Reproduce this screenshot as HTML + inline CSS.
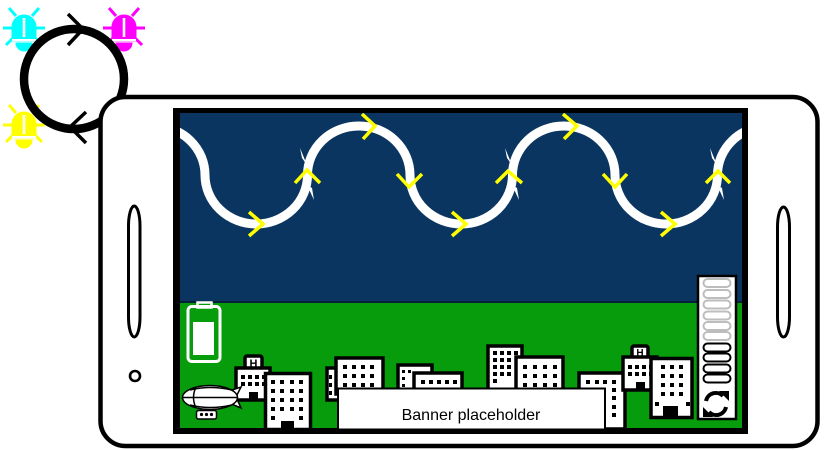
<!DOCTYPE html>
<html><head><meta charset="utf-8"><style>
html,body{margin:0;padding:0;background:#fff;}
svg{display:block;}
</style></head><body>
<svg width="830" height="450" viewBox="0 0 830 450" xmlns="http://www.w3.org/2000/svg">
<defs>
<clipPath id="scr"><rect x="180" y="113" width="562" height="188"/></clipPath>
<g id="bug">
  <path d="M-12,12 L-12,-2 A12,12 0 0 1 12,-2 L12,12 Z"/>
  <path d="M-8,14 L8,14 A8,8 0 0 1 -8,14 Z"/>
  <g stroke-width="3" stroke-linecap="butt" fill="none">
    <line x1="-21" y1="-1" x2="-12" y2="-1"/>
    <line x1="12" y1="-1" x2="21" y2="-1"/>
    <line x1="-15" y1="-21" x2="-8" y2="-13"/>
    <line x1="15" y1="-21" x2="8" y2="-13"/>
    <line x1="-11" y1="9" x2="-18" y2="16"/>
    <line x1="11" y1="9" x2="18" y2="16"/>
  </g>
  <rect x="-1.3" y="-11" width="2.6" height="19" fill="#fff" stroke="none"/>
  <rect x="-12" y="10" width="24" height="2.2" fill="#fff" stroke="none"/>
</g>
</defs>

<!-- bugs -->
<g fill="#00ffff" stroke="#00ffff" transform="translate(24,29)"><use href="#bug"/></g>
<g fill="#ff00ff" stroke="#ff00ff" transform="translate(124,29)"><use href="#bug"/></g>
<g fill="#ffff00" stroke="#ffff00" transform="translate(24,126)"><use href="#bug"/></g>

<!-- sync circle -->
<circle cx="74" cy="79" r="50" fill="none" stroke="#000" stroke-width="8.5"/>
<polyline points="68,14 83,29 68,45" fill="none" stroke="#000" stroke-width="3.5"/>
<polyline points="86,112 70,127 86,143" fill="none" stroke="#000" stroke-width="3.5"/>

<!-- phone -->
<rect x="100.5" y="97" width="717" height="349" rx="25" ry="25" fill="#fff" stroke="#000" stroke-width="4.5"/>
<rect x="128.5" y="206" width="11.5" height="131" rx="5.75" ry="20" fill="#fff" stroke="#000" stroke-width="3"/>
<rect x="777.5" y="207" width="12" height="130" rx="6" ry="20" fill="#fff" stroke="#000" stroke-width="3"/>
<circle cx="135" cy="376" r="5" fill="#fff" stroke="#000" stroke-width="2.6"/>

<!-- screen -->
<rect x="173" y="108" width="575" height="326" fill="#000"/>
<rect x="180" y="113" width="562" height="188" fill="#0a3560"/>
<rect x="180" y="301" width="562" height="2" fill="#06203a"/>
<rect x="180" y="303" width="562" height="125" fill="#069c0b"/>

<!-- wave -->
<g clip-path="url(#scr)">
<path d="M102.5,175 A51.25,49 0 0 1 205,175 A51.25,49 0 0 0 307.5,175 A51.25,49 0 0 1 410,175 A51.25,49 0 0 0 512.5,175 A51.25,49 0 0 1 615,175 A51.25,49 0 0 0 717.5,175 A51.25,49 0 0 1 820,175" fill="none" stroke="#fff" stroke-width="9"/>
<g fill="#fff">
  <polygon points="200,160 196,150 205,165"/><polygon points="210,190 214,200 205,185"/>
  <polygon points="302,158 300,148 307,165"/><polygon points="312,188 314,200 307,185"/>
  <polygon points="405,162 403,150 410,168"/><polygon points="415,190 417,200 410,185"/>
  <polygon points="507,158 505,148 512,165"/><polygon points="517,188 519,200 512,185"/>
  <polygon points="610,162 608,150 615,168"/><polygon points="620,190 622,200 615,185"/>
  <polygon points="712,158 710,148 717,165"/><polygon points="722,188 724,200 717,185"/>
</g>
<g fill="none" stroke="#ffff00" stroke-width="3.5">
  <polyline points="249,212 263,224 249,236"/>
  <polyline points="362,114 375,126 363,139"/>
  <polyline points="295,183 307,170 320,183"/>
  <polyline points="397,174 409,187 422,174"/>
  <polyline points="452,212 466,224 452,236"/>
  <polyline points="496,183 508,171 522,183"/>
  <polyline points="563,114 577,126 564,139"/>
  <polyline points="603,174 615,187 627,174"/>
  <polyline points="661,212 675,224 661,236"/>
  <polyline points="706,183 718,171 730,183"/>
</g>
</g>

<!-- battery -->
<rect x="197.5" y="302.5" width="14" height="5" fill="none" stroke="#fff" stroke-width="2.5"/>
<rect x="188" y="306.5" width="32" height="55" rx="4" fill="none" stroke="#fff" stroke-width="3"/>
<rect x="193" y="322" width="21" height="33" fill="#fff"/>

<!-- hospital 1 -->
<g stroke="#000" stroke-width="3.5" fill="#fff">
  <rect x="245" y="356" width="17" height="13" rx="2"/>
  <rect x="236" y="368" width="34" height="32"/>
</g>
<text x="253.5" y="367" font-family="Liberation Sans, sans-serif" font-weight="bold" font-size="11" fill="#000" text-anchor="middle">H</text>
<g fill="#000">
  <rect x="241" y="375" width="4" height="4"/><rect x="248" y="375" width="4" height="4"/><rect x="255" y="375" width="4" height="4"/><rect x="262" y="375" width="4" height="4"/>
  <rect x="241" y="382" width="4" height="4"/><rect x="248" y="382" width="4" height="4"/><rect x="255" y="382" width="4" height="4"/><rect x="262" y="382" width="4" height="4"/>
  <rect x="249" y="392" width="9" height="8"/>
</g>

<!-- blimp -->
<g stroke="#000" stroke-width="1.5" fill="#fff">
  <polygon points="229,391 241,387 236,397 241,408 229,403"/>
  <ellipse cx="210" cy="397.5" rx="27.5" ry="12"/>
  <line x1="183" y1="397.5" x2="237" y2="397.5"/>
  <path d="M190,390 Q210,385 232,390" fill="none"/>
  <path d="M190,405 Q210,410 232,405" fill="none"/>
  <path d="M196,387 Q191,397.5 196,408" fill="none"/>
  <rect x="196.5" y="410.5" width="20" height="8.5" rx="2"/>
</g>
<g fill="#000"><circle cx="201.5" cy="414.5" r="1.6"/><circle cx="206.5" cy="414.5" r="1.6"/><circle cx="211.5" cy="414.5" r="1.6"/></g>

<!-- tall building 1 -->
<rect x="265.5" y="373.5" width="45" height="56" fill="#fff" stroke="#000" stroke-width="3.5"/>
<g fill="#000">
  <rect x="271" y="380" width="4" height="4"/><rect x="280" y="380" width="4" height="4"/><rect x="290" y="380" width="4" height="4"/><rect x="299" y="380" width="4" height="4"/>
  <rect x="271" y="389" width="4" height="4"/><rect x="280" y="389" width="4" height="4"/><rect x="290" y="389" width="4" height="4"/><rect x="299" y="389" width="4" height="4"/>
  <rect x="271" y="398" width="4" height="4"/><rect x="280" y="398" width="4" height="4"/><rect x="290" y="398" width="4" height="4"/><rect x="299" y="398" width="4" height="4"/>
  <rect x="271" y="407" width="4" height="4"/><rect x="280" y="407" width="4" height="4"/><rect x="290" y="407" width="4" height="4"/><rect x="299" y="407" width="4" height="4"/>
  <rect x="271" y="416" width="4" height="4"/><rect x="299" y="416" width="4" height="4"/>
  <rect x="281" y="421" width="13" height="8"/>
</g>

<!-- buildings behind banner -->
<g stroke="#000" stroke-width="3.5" fill="#fff">
  <rect x="327" y="368" width="12" height="32"/>
  <rect x="336" y="358" width="47" height="36"/>
  <rect x="398" y="365" width="34" height="30"/>
  <rect x="414" y="373" width="48" height="22"/>
  <rect x="488" y="346" width="34" height="48"/>
  <rect x="516" y="357" width="47" height="37"/>
  <rect x="579" y="373" width="46" height="56"/>
</g>
<g fill="#000">
  <rect x="329" y="375" width="3" height="4"/><rect x="329" y="383" width="3" height="4"/><rect x="329" y="391" width="3" height="4"/>
  <rect x="343" y="365" width="4" height="4"/><rect x="352" y="365" width="4" height="4"/><rect x="361" y="365" width="4" height="4"/><rect x="370" y="365" width="4" height="4"/>
  <rect x="343" y="374" width="4" height="4"/><rect x="352" y="374" width="4" height="4"/><rect x="361" y="374" width="4" height="4"/><rect x="370" y="374" width="4" height="4"/>
  <rect x="343" y="383" width="4" height="4"/><rect x="352" y="383" width="4" height="4"/><rect x="361" y="383" width="4" height="4"/><rect x="370" y="383" width="4" height="4"/>
  <rect x="402" y="370" width="3" height="3"/><rect x="408" y="370" width="3" height="3"/>
  <rect x="402" y="377" width="3" height="3"/><rect x="402" y="384" width="3" height="3"/>
  <rect x="421" y="380" width="4" height="4"/><rect x="429" y="380" width="4" height="4"/><rect x="437" y="380" width="4" height="4"/><rect x="445" y="380" width="4" height="4"/><rect x="453" y="380" width="4" height="4"/>
  <rect x="493" y="351" width="4" height="4"/><rect x="500" y="351" width="4" height="4"/><rect x="507" y="351" width="4" height="4"/><rect x="514" y="351" width="4" height="4"/>
  <rect x="493" y="358" width="4" height="4"/><rect x="500" y="358" width="4" height="4"/><rect x="507" y="358" width="4" height="4"/>
  <rect x="493" y="365" width="4" height="4"/><rect x="500" y="365" width="4" height="4"/><rect x="507" y="365" width="4" height="4"/>
  <rect x="493" y="372" width="4" height="4"/><rect x="500" y="372" width="4" height="4"/><rect x="507" y="372" width="4" height="4"/>
  <rect x="493" y="379" width="4" height="4"/>
  <rect x="523" y="365" width="4" height="4"/><rect x="533" y="365" width="4" height="4"/><rect x="543" y="365" width="4" height="4"/><rect x="553" y="365" width="4" height="4"/>
  <rect x="523" y="374" width="4" height="4"/><rect x="533" y="374" width="4" height="4"/><rect x="543" y="374" width="4" height="4"/><rect x="553" y="374" width="4" height="4"/>
  <rect x="523" y="383" width="4" height="4"/><rect x="533" y="383" width="4" height="4"/><rect x="543" y="383" width="4" height="4"/><rect x="553" y="383" width="4" height="4"/>
  <rect x="586" y="380" width="4" height="4"/><rect x="595" y="380" width="4" height="4"/><rect x="603" y="380" width="4" height="4"/><rect x="612" y="380" width="4" height="4"/>
  <rect x="612" y="388" width="4" height="4"/><rect x="612" y="396" width="4" height="4"/><rect x="612" y="405" width="4" height="4"/><rect x="612" y="413" width="4" height="4"/>
</g>

<!-- banner -->
<rect x="338" y="388.5" width="267" height="41" fill="#fff" stroke="#000" stroke-width="2"/>
<text x="471" y="420" font-family="Liberation Sans, sans-serif" font-size="16" fill="#000" text-anchor="middle">Banner placeholder</text>

<!-- hospital 2 -->
<g stroke="#000" stroke-width="3.5" fill="#fff">
  <rect x="632" y="346" width="16" height="12" rx="2"/>
  <rect x="623" y="357" width="34" height="33"/>
</g>
<text x="640" y="356" font-family="Liberation Sans, sans-serif" font-weight="bold" font-size="10" fill="#000" text-anchor="middle">H</text>
<g fill="#000">
  <rect x="628" y="365" width="4" height="4"/><rect x="635" y="365" width="4" height="4"/><rect x="642" y="365" width="4" height="4"/><rect x="649" y="365" width="4" height="4"/>
  <rect x="628" y="372" width="4" height="4"/><rect x="635" y="372" width="4" height="4"/><rect x="642" y="372" width="4" height="4"/><rect x="649" y="372" width="4" height="4"/>
  <rect x="636" y="382" width="9" height="8"/>
</g>

<!-- tall building 2 -->
<rect x="651" y="358.5" width="41" height="59" fill="#fff" stroke="#000" stroke-width="3.5"/>
<g fill="#000">
  <rect x="661" y="365" width="4" height="4"/><rect x="670" y="365" width="4" height="4"/><rect x="679" y="365" width="4" height="4"/>
  <rect x="661" y="374" width="4" height="4"/><rect x="670" y="374" width="4" height="4"/><rect x="679" y="374" width="4" height="4"/>
  <rect x="661" y="383" width="4" height="4"/><rect x="670" y="383" width="4" height="4"/><rect x="679" y="383" width="4" height="4"/>
  <rect x="661" y="392" width="4" height="4"/><rect x="670" y="392" width="4" height="4"/><rect x="679" y="392" width="4" height="4"/>
  <rect x="655" y="402" width="4" height="4"/><rect x="686" y="402" width="4" height="4"/>
  <rect x="663" y="406" width="15" height="11"/>
</g>

<!-- right panel -->
<rect x="698" y="276" width="38" height="143" fill="#fff" stroke="#000" stroke-width="2.5"/>
<g fill="none" stroke-width="2">
  <g stroke="#bdbdbd">
    <rect x="703.5" y="279" width="27" height="8" rx="4"/>
    <rect x="703.5" y="290" width="27" height="8" rx="4"/>
    <rect x="703.5" y="300.5" width="27" height="8" rx="4"/>
    <rect x="703.5" y="311.5" width="27" height="8" rx="4"/>
    <rect x="703.5" y="322" width="27" height="8" rx="4"/>
    <rect x="703.5" y="332" width="27" height="8" rx="4"/>
  </g>
  <g stroke="#000">
    <rect x="703.5" y="343.5" width="27" height="8" rx="4"/>
    <rect x="703.5" y="353.5" width="27" height="8" rx="4"/>
    <rect x="703.5" y="364.5" width="27" height="8" rx="4"/>
    <rect x="703.5" y="374.5" width="27" height="8" rx="4"/>
  </g>
</g>
<!-- refresh -->
<g fill="none" stroke="#000" stroke-width="4">
  <path d="M706,401 A10,10 0 0 1 723,396"/>
  <path d="M726,407 A10,10 0 0 1 709,412"/>
</g>
<g fill="#000">
  <polygon points="719,391 729,391 729,401"/>
  <polygon points="713,417 703,417 703,407"/>
</g>
</svg>
</body></html>
